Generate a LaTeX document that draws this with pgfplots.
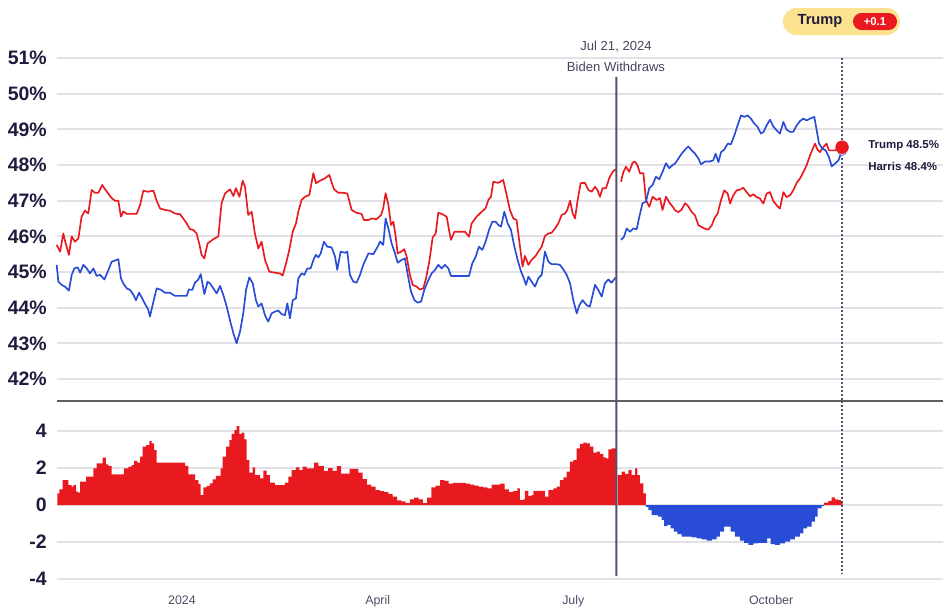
\documentclass[border=0pt]{standalone}
\usepackage{fontspec}
\setmainfont{Liberation Sans}
\usepackage{pgfplots}
\pgfplotsset{compat=1.18}
\definecolor{tred}{RGB}{232,26,32}
\definecolor{hblue}{RGB}{40,76,214}
\definecolor{navy}{RGB}{30,28,62}
\definecolor{gridc}{RGB}{226,226,230}
\definecolor{sepc}{RGB}{95,95,95}
\definecolor{evline}{RGB}{88,78,108}
\definecolor{evtext}{RGB}{70,70,95}
\definecolor{lbl}{RGB}{75,75,105}
\definecolor{badge}{RGB}{253,227,143}
\begin{document}
\begin{tikzpicture}
\path[use as bounding box] (0,0) rectangle (707.25pt,-455.25pt);
% ---------------- top panel ----------------
\begin{axis}[
  name=top, at={(42.75pt,-30pt)}, anchor=north west, scale only axis,
  width=664.5pt, height=270.75pt,
  xmin=-58.14, xmax=353.95, ymin=41.383, ymax=51.505,
  clip=false,
  axis line style={draw=none}, tick style={draw=none},
  xtick=\empty,
  ytick={42,43,44,45,46,47,48,49,50,51},
  yticklabels={42\%,43\%,44\%,45\%,46\%,47\%,48\%,49\%,50\%,51\%},
  ymajorgrids, major grid style={gridc, line width=1.3pt},
  yticklabel style={font=\fontsize{14.6}{16}\selectfont\bfseries, text=navy, inner sep=0pt, anchor=east, xshift=-7.5pt},
]
\draw[evline, line width=0.9pt, dash pattern=on 1.2pt off 1.8pt] (axis cs:307,51) -- (axis cs:307,41.383);
% Trump (red)
\addplot[tred, line width=1.25pt, line join=round] coordinates {
(-58.3,45.76) (-56.7,45.57) (-55.2,46.08) (-54.1,45.8) (-52.6,45.48) (-51.3,46.0) (-49.8,45.85) (-48.2,45.94) (-46.7,46.55) (-45.1,46.72) (-43.6,46.64) (-42.0,47.3) (-40.5,47.22) (-38.9,47.22) (-37.1,47.44) (-35.8,47.32) (-34.3,47.2) (-32.7,47.07) (-31.2,47.0) (-29.6,47.0) (-28.4,46.55) (-27.3,46.7) (-25.7,46.63) (-23.4,46.63) (-21.1,46.63) (-19.5,46.88) (-18.0,47.28) (-15.7,47.25) (-13.3,47.28) (-11.8,47.0) (-10.2,46.78) (-7.9,46.74) (-5.6,46.72) (-3.3,46.64) (-0.9,46.62) (0.6,46.5) (2.2,46.36) (3.7,46.2) (5.3,46.18) (6.8,46.08) (8.0,45.8) (9.1,45.48) (10.4,45.38) (11.9,45.8)
(13.0,45.85) (14.6,45.92) (16.9,46.0) (18.4,46.93) (20.0,47.2) (22.3,47.32) (23.9,47.13) (25.1,47.35) (26.7,47.11) (28.2,47.56) (29.3,47.39) (30.8,46.6) (32.4,46.69) (33.9,46.08) (35.5,45.66) (37.0,45.85) (38.6,45.34) (40.6,45.01) (43.2,44.98) (45.6,44.96) (46.8,44.9) (48.4,45.24) (49.9,45.62) (51.5,46.13) (53.0,46.36) (54.1,46.69) (55.6,47.02) (57.2,47.11) (59.2,47.16) (61.1,47.77) (62.3,47.49) (64.2,47.56) (66.5,47.63) (68.5,47.72) (70.7,47.32) (72.7,47.22) (75.0,47.22) (76.9,47.2) (78.9,46.74) (81.2,46.66) (83.5,46.63) (84.6,46.46)
(86.7,46.46) (88.2,46.5) (90.5,46.48) (92.6,46.6) (93.6,46.79) (94.7,47.21) (96.0,46.88) (97.2,46.32) (98.3,46.41) (99.4,45.99) (100.3,45.52) (101.9,45.57) (103.4,45.64) (104.5,45.43) (106.0,44.92) (107.3,44.64) (109.1,44.59) (110.7,44.51) (112.2,44.54) (113.5,44.82) (115.0,45.29) (116.6,45.97) (118.0,46.08) (119.2,46.66) (120.8,46.63) (123.1,46.55) (124.2,46.18) (125.1,45.9) (126.7,46.13) (129.3,46.13) (131.6,46.13) (133.5,45.99) (134.7,46.36) (137.0,46.55) (139.4,46.69) (141.2,46.79) (142.5,47.02) (143.7,47.11) (144.8,47.53) (147.1,47.5) (149.4,47.58) (151.0,47.16) (152.5,46.74) (154.1,46.5) (155.6,46.46) (157.2,45.71)
(158.4,45.15) (159.5,45.45) (161.1,45.2) (162.6,45.34) (164.2,45.43) (165.7,45.57) (167.3,45.71) (168.8,46.01) (170.4,46.08) (171.9,46.1) (173.5,46.22) (175.0,46.36) (176.6,46.6) (178.1,46.64) (179.2,46.74) (180.5,47.0) (181.7,46.64) (182.8,46.5) (183.9,46.97) (185.4,47.49) (187.4,47.5) (189.0,47.3) (190.5,47.25) (192.1,47.39) (193.2,47.3) (194.4,47.11) (195.6,47.35) (197.2,47.35) (198.7,47.63) (200.3,47.81) (201.7,47.88)
};
\addplot[tred, line width=1.25pt, line join=round] coordinates {
(204.2,47.53) (205.2,47.79) (206.5,47.95) (208.0,47.81) (209.6,48.07) (210.7,48.09) (211.8,48.0) (213.0,47.77) (214.6,47.77) (215.8,47.02) (217.3,46.83) (218.9,47.11) (220.7,47.02) (222.3,47.07) (223.5,46.74) (225.1,47.11) (226.9,46.93) (228.5,46.81)
(229.3,46.73) (230.9,46.68) (232.4,46.75) (234.0,46.93) (235.5,46.84) (237.1,46.68) (238.6,46.59) (240.2,46.31) (241.7,46.26) (243.3,46.21) (244.8,46.19) (246.4,46.31) (247.6,46.5) (249.1,46.64) (250.7,47.01) (252.2,47.29) (253.8,47.2) (254.9,46.92) (256.4,47.15) (258.0,47.29) (259.5,47.31) (261.1,47.36) (262.6,47.24) (264.2,47.12) (265.7,47.18) (267.3,47.1) (268.8,47.06) (270.4,46.92) (271.9,47.2) (273.5,47.24) (275.0,46.99) (276.6,46.87) (278.1,46.78) (279.7,47.24) (281.2,47.1) (282.8,47.15) (284.3,47.29) (285.9,47.5) (287.4,47.62) (289.0,47.8) (290.5,47.99) (292.1,48.27) (293.2,48.43) (294.4,48.6) (295.6,48.43) (296.7,48.36) (298.3,48.5) (299.8,48.6) (300.9,48.41) (302.5,48.41) (303.7,48.41) (307,48.5)
};
% Biden (blue)
\addplot[hblue, line width=1.25pt, line join=round] coordinates {
(-58.3,45.2) (-57.5,44.73) (-56.0,44.64) (-54.4,44.59) (-52.6,44.48) (-51.3,44.92) (-50.1,45.1) (-48.5,45.13) (-47.4,44.98) (-45.9,45.2) (-44.3,45.1) (-42.8,44.96) (-41.2,45.1) (-39.7,44.89) (-38.1,44.92) (-36.1,44.79) (-34.6,45.0) (-32.7,45.29) (-31.2,45.32) (-29.6,45.36) (-28.4,44.82) (-27.3,44.68) (-25.7,44.54) (-24.2,44.5) (-22.6,44.36) (-21.4,44.21) (-20.0,44.42) (-18.5,44.26) (-16.9,44.07) (-15.7,43.95) (-14.9,43.75) (-13.3,44.17) (-11.8,44.54) (-9.8,44.5) (-7.9,44.42) (-5.6,44.42) (-3.3,44.33) (-0.2,44.33) (2.2,44.33) (3.2,44.51) (4.8,44.5) (6.0,44.7) (7.6,44.79) (8.7,44.94) (10.4,44.38) (11.9,44.73)
(13.0,44.68) (14.6,44.54) (16.1,44.4) (17.7,44.61) (19.2,44.36) (20.8,44.03) (22.3,43.65) (23.9,43.28) (25.4,43.0) (27.0,43.33) (28.5,43.84) (29.8,44.5) (31.3,44.85) (32.9,44.68) (34.4,44.21) (35.5,44.03) (37.0,44.12) (38.6,43.79) (40.1,43.61) (41.7,43.84) (43.2,43.89) (44.8,43.92) (46.3,43.82) (47.9,43.79) (49.0,44.12) (50.2,43.7) (51.5,44.21) (53.0,44.26) (54.1,44.82) (55.6,44.96) (56.9,44.92) (58.3,45.1) (59.8,45.1) (61.4,45.38) (62.3,45.48) (63.4,45.41) (64.5,45.52) (66.0,45.85) (67.6,45.71) (69.6,45.69) (71.2,45.43) (72.2,45.06) (73.8,45.57) (75.8,45.54) (76.9,45.57) (78.1,44.92) (79.7,44.73) (81.2,44.7) (82.8,44.92) (84.3,45.2)
(86.7,45.52) (89.0,45.5) (91.0,45.71) (92.1,45.85) (93.6,45.76) (94.7,46.5) (96.0,46.22) (97.5,45.8) (99.1,45.52) (100.3,45.26) (102.2,45.34) (103.7,45.38) (105.0,44.92) (106.5,44.45) (108.1,44.21) (109.6,44.14) (111.2,44.17) (112.7,44.5) (114.6,44.78) (116.1,44.96) (117.7,45.06) (119.2,45.2) (120.8,45.1) (122.3,45.2) (123.9,45.1) (125.1,44.89) (127.7,44.89) (130.9,44.89) (133.5,44.89) (135.0,45.24) (136.6,45.43) (138.1,45.71) (139.7,45.62) (141.2,45.85) (142.8,46.18) (144.3,46.41) (145.9,46.41) (147.1,46.32) (148.4,46.27) (149.9,46.69) (151.5,46.36) (153.0,46.18) (154.6,45.71) (156.1,45.34) (157.7,45.01)
(158.7,44.87) (160.0,44.64) (161.1,44.87) (162.6,44.73) (164.2,44.59) (165.7,44.82) (167.3,44.92) (168.8,45.57) (170.4,45.29) (171.9,45.22) (174.2,45.22) (175.8,45.2) (177.4,45.07) (178.9,44.92) (180.5,44.68) (182.0,44.21) (183.6,43.84) (184.8,44.07) (186.3,44.21) (188.2,44.07) (189.7,44.03) (191.0,44.36) (192.1,44.64) (193.6,44.5) (195.2,44.31) (196.7,44.68) (198.3,44.79) (199.8,44.7) (201.7,44.85)
};
% Harris (blue)
\addplot[hblue, line width=1.25pt, line join=round] coordinates {
(204.2,45.9) (205.6,45.99) (206.8,46.22) (208.4,46.13) (209.9,46.22) (211.5,46.2) (212.7,46.55) (214.2,46.93) (215.8,46.97) (217.3,47.35) (218.9,47.44) (220.4,47.67) (222.0,47.6) (223.5,47.81) (225.1,48.05) (226.6,47.91) (228.2,48.0)
(229.3,48.04) (230.9,48.18) (232.4,48.32) (234.0,48.43) (235.5,48.52) (237.1,48.41) (238.6,48.32) (240.2,48.18) (241.4,48.02) (243.3,48.1) (245.6,48.1) (247.1,48.13) (248.2,48.32) (249.5,48.08) (250.7,48.36) (252.2,48.43) (253.8,48.6) (255.3,48.58) (256.9,48.83) (258.4,49.11) (260.0,49.39) (261.5,49.35) (263.1,49.39) (264.6,49.3) (266.2,49.16) (267.7,49.07) (269.3,48.88) (270.5,48.93) (271.9,49.11) (273.5,49.27) (275.0,49.08) (276.6,48.97) (278.1,48.88) (279.7,49.21) (281.2,48.99) (282.8,48.93) (284.3,48.93) (285.9,49.11) (287.4,49.23) (289.0,49.3) (290.5,49.25) (292.1,49.3) (294.1,49.35) (295.2,48.97) (296.3,48.6) (297.8,48.46) (299.4,48.41) (300.9,48.22) (302.2,47.96) (303.7,48.04) (305.3,48.13) (307,48.4)
};
% end markers
\addplot[only marks, mark=*, mark size=3.4pt, mark options={draw=hblue!60!white, fill=white, line width=0.8pt}] coordinates {(307,48.4)};
\addplot[only marks, mark=*, mark size=4.8pt, mark options={draw=tred, fill=tred}] coordinates {(307,48.5)};
\draw[sepc, line width=1.7pt] (rel axis cs:0,0) -- (rel axis cs:1,0);
\coordinate (wt) at (axis cs:202,50.47);
\end{axis}
% ---------------- bottom panel ----------------
\begin{axis}[
  name=bot, at={(42.75pt,-300.75pt)}, anchor=north west, scale only axis,
  width=664.5pt, height=138pt,
  xmin=-58.14, xmax=353.95, ymin=-4.324, ymax=5.622,
  clip=false,
  axis line style={draw=none}, tick style={draw=none},
  ytick={-4,-2,0,2,4}, yticklabels={-4,-2,0,2,4},
  xtick={0,91,182,274}, xticklabels={2024,April,July,October},
  ymajorgrids, major grid style={gridc, line width=1.3pt},
  yticklabel style={font=\fontsize{14.6}{16}\selectfont\bfseries, text=navy, inner sep=0pt, anchor=east, xshift=-7.5pt},
  xticklabel style={font=\fontsize{9.3}{11}\selectfont, text=lbl, inner sep=0pt, anchor=base, yshift=-14.6pt},
]
\draw[sepc, line width=1.7pt] (rel axis cs:0,1) -- (rel axis cs:1,1);
% Trump lead (red bars)
\addplot[ybar interval, fill=tred, draw=none] coordinates {
(-58.0,0.63) (-57.0,0.85) (-55.5,1.35) (-53.95,1.35) (-52.9,1.08) (-51.3,0.99) (-50.5,1.08) (-49.3,0.72) (-48.2,0.67) (-47.4,1.26) (-45.9,1.26) (-44.65,1.53) (-43.1,1.53) (-41.2,1.98) (-39.7,2.25) (-38.1,2.25) (-36.9,2.56) (-35.35,2.2) (-34.25,2.11) (-32.7,1.66) (-30.4,1.66) (-28.0,1.66) (-27.0,1.98) (-24.9,2.07) (-23.4,2.16) (-22.3,2.38) (-20.8,2.29) (-19.5,2.61) (-18.3,3.15) (-16.7,3.24) (-15.2,3.46) (-14.1,3.33) (-13.0,2.97) (-11.8,2.29) (-8.7,2.29) (-5.6,2.29) (-2.5,2.29) (-0.2,2.29) (1.4,2.11) (3.0,1.66) (5.0,1.66) (6.05,1.35) (7.6,1.14) (8.7,0.54) (9.9,0.95) (11.5,1.03) (13.0,1.17) (14.3,1.39) (15.8,1.57) (16.9,1.57) (18.0,1.98) (18.9,2.61) (20.5,3.15) (22.0,3.51) (23.1,3.84) (24.35,4.05) (25.4,4.27) (26.7,3.84) (27.75,3.91) (29.0,3.55) (30.1,2.43) (31.3,1.75) (32.9,2.04) (34.0,1.62) (35.5,1.62) (36.3,1.44) (37.8,1.86) (39.4,1.62) (40.9,1.21) (43.25,1.08) (45.6,1.08) (47.9,1.21) (49.5,1.53) (51.0,1.89) (53.0,2.04) (54.6,1.89) (56.1,2.07) (58.0,1.98) (60.3,1.98) (61.4,2.29) (63.4,2.11)
(64,2.1) (66,1.85) (68,2.0) (70,1.85) (72,2.1) (74,1.7) (76,1.7) (78,1.95) (80,1.95) (82,1.75) (84,1.4) (86,1.1) (88,1.0) (90,0.8) (92,0.75) (94,0.7) (96,0.6) (98,0.45) (100,0.25) (102,0.2) (104,0.1) (106,0.3) (108,0.4) (110,0.3) (112,0.1) (114,0.4) (116,0.95) (118,1.05) (120,1.35) (122,1.3) (124,1.15) (126,1.2) (128,1.2) (130,1.2) (132,1.15) (134,1.1) (136,1.05) (138,1.0) (140,0.95) (142,0.9) (144,1.1) (146,1.1) (148,1.15) (150,0.85) (152,0.7) (154,0.75) (156,0.9)
(157.2,0.27) (158.75,0.31) (159.5,0.77) (161.1,0.49) (162.6,0.54) (163.4,0.77) (165.7,0.77) (168.05,0.77) (168.8,0.45) (170.4,0.81) (172.7,0.9) (174.25,0.99) (175.8,1.35) (177.35,1.5) (178.9,1.8) (180.45,2.34) (182.0,2.43) (183.55,3.06) (185.1,3.3) (186.65,3.37) (188.2,3.33) (189.75,3.15) (191.3,2.83) (192.85,2.88) (194.4,2.76) (195.95,2.58) (197.2,2.52) (198.3,3.01) (199.8,3.06) (201.4,3.06) (202.0,0)
};
\addplot[ybar interval, fill=tred, draw=none] coordinates {
(202.6,1.62) (204.5,1.8) (206.0,1.68) (207.6,1.89) (209.1,1.62) (210.7,1.98) (211.8,1.62) (213.0,1.17) (214.6,0.63) (215.8,0)
};
% Harris lead (blue bars)
\addplot[ybar interval, fill=hblue, draw=none] coordinates {
(215.8,-0.1) (216.9,-0.27) (218.4,-0.54) (220.0,-0.54) (221.5,-0.63) (223.1,-0.81) (224.2,-1.14) (225.7,-1.08) (227.3,-1.26) (228.8,-1.44) (230.4,-1.57) (232.4,-1.71) (234.7,-1.71) (237.0,-1.75) (239.4,-1.8) (241.7,-1.86) (244.0,-1.93) (246.4,-1.86) (248.7,-1.71) (250.2,-1.44) (252.1,-1.17) (253.6,-1.17) (255.2,-1.44) (257.2,-1.71) (259.5,-1.93) (261.4,-2.04) (263.4,-2.16) (265.7,-2.07) (268.0,-2.04) (270.4,-2.04) (272.2,-1.8) (273.8,-2.11) (275.8,-2.16) (278.1,-2.07) (280.4,-1.98) (282.8,-1.86) (285.1,-1.71) (287.4,-1.53) (289.0,-1.26) (290.8,-1.17) (292.8,-0.9) (294.4,-0.63) (295.6,-0.18) (297.5,-0.05) (298.5,0)
};
\addplot[ybar interval, fill=tred, draw=none] coordinates {
(298.5,0.13) (300.6,0.23) (302.1,0.41) (303.7,0.31) (305.2,0.27) (306.5,0.18) (307.3,0)
};
\draw[evline, line width=0.9pt, dash pattern=on 1.2pt off 1.8pt] (axis cs:307,5.622) -- (axis cs:307,-3.68);
\coordinate (wb) at (axis cs:202,-3.84);
\end{axis}
% withdrawal line and annotations
\draw[evline, line width=1.5pt] (wt) -- (wb);
\node[font=\fontsize{9.8}{12}\selectfont, text=evtext] at (462pt,-35.25pt) {Jul 21, 2024};
\node[font=\fontsize{9.8}{12}\selectfont, text=evtext] at (462pt,-50.25pt) {Biden Withdraws};
\node[anchor=west, inner sep=0pt, font=\fontsize{8.6}{10}\selectfont\bfseries, text=navy] at (651pt,-109.5pt) {Trump 48.5\%};
\node[anchor=west, inner sep=0pt, font=\fontsize{8.6}{10}\selectfont\bfseries, text=navy] at (651pt,-124.5pt) {Harris 48.4\%};
% badge
\fill[badge, rounded corners=10pt] (587.25pt,-6pt) rectangle (675pt,-26.25pt);
\node[font=\fontsize{11}{13}\selectfont\bfseries, text=navy] at (615pt,-16.1pt) {Trump};
\fill[tred, rounded corners=6.3pt] (639.75pt,-9.75pt) rectangle (672.75pt,-22.5pt);
\node[font=\fontsize{8.5}{10}\selectfont\bfseries, text=white] at (656.25pt,-16.1pt) {+0.1};
\end{tikzpicture}
\end{document}
